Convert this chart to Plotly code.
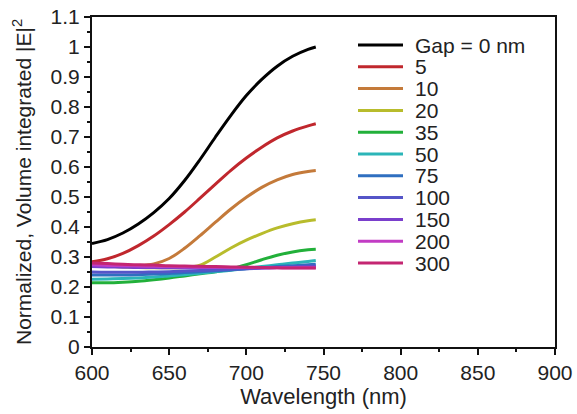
import plotly.graph_objects as go

wavelength = [600, 610, 620, 630, 640, 650, 660, 670, 680, 690, 700, 710, 720, 730, 740, 745]

labels = ["Gap = 0 nm", "5", "10", "20", "35", "50", "75", "100", "150", "200", "300"]

gap0 = [0.345, 0.358, 0.380, 0.410, 0.448, 0.495, 0.555, 0.625, 0.700, 0.772, 0.838, 0.892, 0.936, 0.969, 0.992, 1.000]
gap5 = [0.284, 0.294, 0.312, 0.338, 0.370, 0.408, 0.450, 0.496, 0.543, 0.589, 0.630, 0.666, 0.697, 0.720, 0.737, 0.744]
gap10 = [0.278, 0.274, 0.272, 0.272, 0.277, 0.295, 0.329, 0.371, 0.416, 0.460, 0.499, 0.532, 0.557, 0.575, 0.585, 0.588]
gap20 = [0.275, 0.270, 0.267, 0.265, 0.264, 0.264, 0.265, 0.273, 0.300, 0.330, 0.356, 0.378, 0.397, 0.411, 0.421, 0.424]
gap35 = [0.214, 0.214, 0.216, 0.219, 0.224, 0.230, 0.237, 0.244, 0.251, 0.260, 0.274, 0.291, 0.306, 0.317, 0.324, 0.326]
gap50 = [0.226, 0.227, 0.228, 0.230, 0.233, 0.237, 0.241, 0.246, 0.251, 0.256, 0.262, 0.268, 0.274, 0.280, 0.285, 0.288]
gap75 = [0.240, 0.240, 0.240, 0.241, 0.243, 0.245, 0.248, 0.251, 0.254, 0.257, 0.261, 0.264, 0.268, 0.271, 0.274, 0.276]
gap100 = [0.250, 0.249, 0.249, 0.249, 0.250, 0.251, 0.253, 0.255, 0.257, 0.259, 0.261, 0.263, 0.265, 0.267, 0.269, 0.270]
gap150 = [0.268, 0.267, 0.266, 0.265, 0.265, 0.264, 0.264, 0.264, 0.264, 0.264, 0.264, 0.264, 0.265, 0.265, 0.266, 0.266]
gap200 = [0.274, 0.272, 0.271, 0.270, 0.269, 0.268, 0.267, 0.266, 0.266, 0.265, 0.265, 0.264, 0.264, 0.264, 0.264, 0.264]
gap300 = [0.280, 0.278, 0.276, 0.274, 0.273, 0.271, 0.270, 0.269, 0.268, 0.267, 0.266, 0.265, 0.264, 0.263, 0.263, 0.263]

series = [gap0, gap5, gap10, gap20, gap35, gap50, gap75, gap100, gap150, gap200, gap300]
colors = ["#000000", "#c0272d", "#c47a3a", "#b8bc2c", "#22b03a", "#2bb5b8", "#2f6fc0",
          "#5555c8", "#7a3fcc", "#c23cc4", "#c42672"]

fig = go.Figure()
for name, ys, c in zip(labels, series, colors):
    fig.add_trace(go.Scatter(x=wavelength, y=ys, mode="lines", name=name, showlegend=False,
                             line=dict(color=c, width=3, shape="spline", smoothing=1.0)))

# Hand-placed legend (paper coordinates), matching the reference's compact layout
W, H = 577, 414
ml, mr, mt, mb = 92, 22, 17, 67
pw, ph = W - ml - mr, H - mt - mb
def px_x(p):
    return (p - ml) / pw
def px_y(p):
    return (H - mb - p) / ph

leg_top, leg_step = 45, 21.8
for i, (name, c) in enumerate(zip(labels, colors)):
    yy = px_y(leg_top + i * leg_step)
    fig.add_shape(type="line", xref="paper", yref="paper",
                  x0=px_x(358), x1=px_x(403), y0=yy, y1=yy,
                  line=dict(color=c, width=3))
    fig.add_annotation(xref="paper", yref="paper", x=px_x(413), y=yy,
                       xanchor="left", yanchor="middle", text=name, showarrow=False,
                       font=dict(size=21, color="#222"))

# y-axis title as rotated text
fig.add_annotation(xref="paper", yref="paper", x=px_x(22), y=0.5,
                   xanchor="center", yanchor="middle", textangle=-90, showarrow=False,
                   text="Normalized, Volume integrated |E|<sup>2</sup>",
                   font=dict(size=21, color="#222"))

font = "Liberation Sans, Arial, sans-serif"
fig.update_layout(
    width=W, height=H,
    margin=dict(l=ml, r=mr, t=mt, b=mb, autoexpand=False),
    paper_bgcolor="white", plot_bgcolor="white",
    font=dict(family=font, size=21, color="#222"),
    showlegend=False,
    xaxis=dict(range=[600, 900], dtick=50, tick0=600, ticks="outside", ticklen=6, tickwidth=1.5,
               showline=True, linecolor="#111", linewidth=2, mirror=True, showgrid=False, zeroline=False,
               minor=dict(ticks="outside", ticklen=3, dtick=25, tickwidth=1.5, tickcolor="#111"),
               tickcolor="#111", tickfont=dict(size=21), automargin=False,
               title=dict(text="Wavelength (nm)", font=dict(size=22), standoff=2)),
    yaxis=dict(range=[0, 1.1], dtick=0.1, tick0=0, ticks="outside", ticklen=6, tickwidth=1.5,
               showline=True, linecolor="#111", linewidth=2, mirror=True, showgrid=False, zeroline=False,
               minor=dict(ticks="outside", ticklen=3, dtick=0.05, tickwidth=1.5, tickcolor="#111"),
               tickcolor="#111", tickfont=dict(size=21), automargin=False),
)

fig.write_html("out.html")
